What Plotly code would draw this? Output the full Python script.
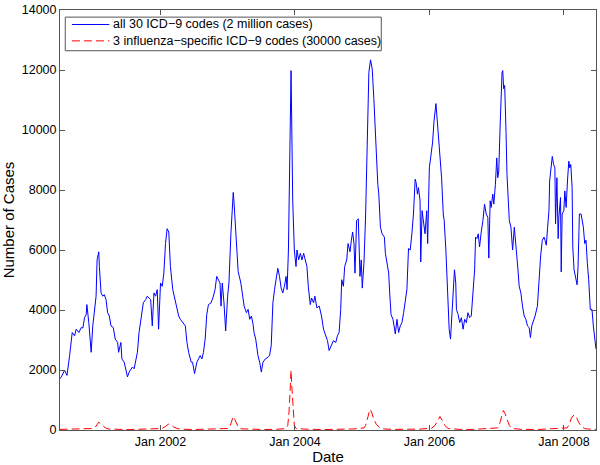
import pandas as pd
import plotly.graph_objects as go

# times as decimal years, values = daily case counts
t_all = [
    2000.500, 2000.525, 2000.574, 2000.609, 2000.648, 2000.687, 2000.722, 2000.746, 2000.786, 2000.820,
    2000.845, 2000.869, 2000.894, 2000.904, 2000.933, 2000.968, 2000.992, 2001.017, 2001.041, 2001.056,
    2001.081, 2001.090, 2001.115, 2001.140, 2001.164, 2001.189, 2001.213, 2001.238, 2001.263, 2001.297,
    2001.326, 2001.361, 2001.376, 2001.410, 2001.425, 2001.459, 2001.508, 2001.533, 2001.582, 2001.607,
    2001.656, 2001.680, 2001.705, 2001.744, 2001.779, 2001.803, 2001.828, 2001.853, 2001.877, 2001.902,
    2001.926, 2001.951, 2001.971, 2002.000, 2002.025, 2002.049, 2002.074, 2002.098, 2002.123, 2002.147,
    2002.182, 2002.211, 2002.236, 2002.270, 2002.295, 2002.344, 2002.369, 2002.393, 2002.418, 2002.457,
    2002.477, 2002.506, 2002.541, 2002.565, 2002.590, 2002.615, 2002.639, 2002.664, 2002.688, 2002.713,
    2002.752, 2002.787, 2002.811, 2002.836, 2002.860, 2002.885, 2002.900, 2002.919, 2002.944, 2002.969,
    2002.998, 2003.018, 2003.047, 2003.082, 2003.096, 2003.131, 2003.155, 2003.195, 2003.214, 2003.244,
    2003.278, 2003.303, 2003.327, 2003.352, 2003.377, 2003.391, 2003.416, 2003.450, 2003.475, 2003.500,
    2003.524, 2003.559, 2003.598, 2003.622, 2003.647, 2003.672, 2003.696, 2003.721, 2003.745, 2003.770,
    2003.795, 2003.819, 2003.844, 2003.868, 2003.883, 2003.903, 2003.942, 2003.967, 2003.991, 2004.016,
    2004.030, 2004.055, 2004.080, 2004.104, 2004.129, 2004.153, 2004.178, 2004.198, 2004.227, 2004.247,
    2004.276, 2004.296, 2004.325, 2004.360, 2004.394, 2004.424, 2004.458, 2004.483, 2004.507, 2004.532,
    2004.571, 2004.606, 2004.630, 2004.655, 2004.679, 2004.694, 2004.719, 2004.738, 2004.768, 2004.788,
    2004.817, 2004.837, 2004.856, 2004.876, 2004.891, 2004.915, 2004.940, 2004.965, 2004.984, 2004.999,
    2005.024, 2005.048, 2005.097, 2005.122, 2005.147, 2005.171, 2005.196, 2005.230, 2005.245, 2005.260,
    2005.269, 2005.294, 2005.328, 2005.343, 2005.368, 2005.392, 2005.407, 2005.427, 2005.456, 2005.476,
    2005.491, 2005.515, 2005.540, 2005.564, 2005.589, 2005.614, 2005.638, 2005.663, 2005.687, 2005.712,
    2005.737, 2005.761, 2005.786, 2005.800, 2005.820, 2005.835, 2005.859, 2005.869, 2005.889, 2005.909,
    2005.933, 2005.958, 2005.972, 2005.997, 2006.017, 2006.046, 2006.066, 2006.095, 2006.105, 2006.130,
    2006.145, 2006.164, 2006.179, 2006.204, 2006.218, 2006.243, 2006.263, 2006.277, 2006.292, 2006.312,
    2006.331, 2006.351, 2006.371, 2006.390, 2006.400, 2006.425, 2006.449, 2006.474, 2006.499, 2006.523,
    2006.548, 2006.572, 2006.597, 2006.621, 2006.646, 2006.671, 2006.685, 2006.705, 2006.725, 2006.744,
    2006.769, 2006.794, 2006.818, 2006.843, 2006.867, 2006.882, 2006.902, 2006.916, 2006.941, 2006.956,
    2006.980, 2007.000, 2007.015, 2007.030, 2007.049, 2007.064, 2007.079, 2007.089, 2007.103, 2007.118,
    2007.128, 2007.138, 2007.152, 2007.167, 2007.177, 2007.187, 2007.211, 2007.236, 2007.261, 2007.285,
    2007.310, 2007.334, 2007.359, 2007.383, 2007.408, 2007.433, 2007.457, 2007.482, 2007.501, 2007.521,
    2007.541, 2007.570, 2007.605, 2007.629, 2007.654, 2007.678, 2007.703, 2007.718, 2007.737, 2007.757,
    2007.777, 2007.787, 2007.811, 2007.826, 2007.846, 2007.865, 2007.875, 2007.885, 2007.895, 2007.914,
    2007.924, 2007.949, 2007.959, 2007.973, 2007.998, 2008.013, 2008.032, 2008.052, 2008.072, 2008.087,
    2008.101, 2008.121, 2008.131, 2008.150, 2008.170, 2008.195, 2008.209, 2008.229, 2008.254, 2008.268,
    2008.288, 2008.308, 2008.327, 2008.347, 2008.367, 2008.391, 2008.416, 2008.436, 2008.455, 2008.475,
]
v_all = [
    1700, 1770, 1990, 1820, 2480, 3250, 3140, 3360, 3250, 3415,
    3400, 3745, 3850, 4180, 3580, 2590, 3470, 4020, 4460, 5670,
    5940, 5450, 4570, 4460, 4510, 4350, 3910, 3800, 3470, 3415,
    3030, 2920, 2590, 2920, 2370, 2260, 1770, 1930, 2100, 2040,
    2590, 3250, 3580, 4240, 4350, 4460, 4400, 4350, 3470, 4570,
    4460, 4680, 3360, 4900, 4790, 5230, 6215, 6710, 6600, 5450,
    4680, 4350, 4130, 3800, 3690, 3525, 3470, 2920, 2590, 2260,
    2260, 1880, 2260, 2370, 2480, 2370, 2590, 3030, 3850, 4180,
    4240, 4460, 4680, 5120, 5010, 4900, 4130, 4900, 4240, 3300,
    4460, 4900, 6540, 7920, 7500, 6000, 5280, 4900, 4570, 4130,
    3910, 4020, 3690, 3800, 3525, 3250, 3030, 2480, 2260, 1930,
    2260, 2370, 2425, 2480, 2810, 4240, 4680, 5010, 5390, 5120,
    4730, 4570, 4790, 5120, 4680, 6000, 11980, 7640, 6000, 5450,
    6000, 5670, 5890, 5670, 5890, 5670, 5450, 4790, 4180, 4400,
    4240, 4460, 4070, 4130, 3800, 3360, 3140, 2975, 2650, 2760,
    2975, 2920, 3140, 3250, 4020, 5010, 4790, 5450, 5670, 6215,
    5940, 6325, 6600, 6215, 5230, 6980, 7040, 5120, 5670, 4730,
    5560, 7100, 11920, 12340, 12030, 11050, 9620, 8190, 7860, 7310,
    6760, 6540, 6430, 5890, 5560, 5230, 4570, 3850, 3690, 3470,
    3200, 3690, 3250, 3470, 3580, 3910, 4240, 4680, 6050, 6000,
    6540, 7200, 8360, 8250, 7860, 8080, 7640, 5600, 7310, 6980,
    6540, 7310, 6215, 8740, 9070, 9600, 10280, 10880, 10600, 9840,
    9620, 8960, 8410, 7200, 6980, 6000, 4900, 3910, 3360, 3030,
    3690, 4350, 5340, 4900, 4020, 3850, 3580, 3745, 3360, 3690,
    3580, 3910, 3745, 3800, 4460, 5340, 6430, 6380, 6540, 6100,
    6600, 6980, 7530, 7200, 7090, 5730, 7640, 7420, 7860, 7530,
    8190, 9070, 8410, 8630, 10060, 11485, 11920, 11980, 11376, 11485,
    10940, 9950, 8520, 7970, 7200, 6980, 6760, 6000, 6760, 6215,
    5500, 4790, 4570, 4130, 3800, 3690, 3470, 3415, 3080, 3470,
    3580, 3800, 4130, 5010, 5830, 6325, 6430, 6325, 6160, 6760,
    7310, 8300, 8850, 9120, 8850, 8740, 6870, 8080, 8410, 6380,
    7090, 7750, 5270, 7200, 7310, 7970, 7420, 8300, 8960, 8740,
    8850, 8080, 6100, 5340, 5120, 4840, 5450, 7200, 7200, 6980,
    6760, 6215, 6325, 5560, 5010, 4020, 4020, 3470, 2975, 2700,
]

t_flu = [
    2000.500, 2000.648, 2000.795, 2000.943, 2000.992, 2001.031, 2001.056, 2001.081, 2001.115, 2001.149,
    2001.189, 2001.238, 2001.385, 2001.533, 2001.680, 2001.828, 2001.951, 2002.025, 2002.074, 2002.103,
    2002.123, 2002.162, 2002.197, 2002.246, 2002.295, 2002.467, 2002.664, 2002.860, 2003.008, 2003.032,
    2003.057, 2003.082, 2003.106, 2003.131, 2003.155, 2003.195, 2003.352, 2003.549, 2003.745, 2003.868,
    2003.893, 2003.912, 2003.932, 2003.942, 2003.952, 2003.971, 2003.991, 2004.016, 2004.188, 2004.434,
    2004.679, 2004.876, 2005.024, 2005.048, 2005.073, 2005.097, 2005.112, 2005.137, 2005.171, 2005.210,
    2005.245, 2005.279, 2005.466, 2005.663, 2005.859, 2006.031, 2006.081, 2006.120, 2006.154, 2006.189,
    2006.228, 2006.277, 2006.449, 2006.646, 2006.843, 2007.015, 2007.049, 2007.079, 2007.098, 2007.123,
    2007.152, 2007.187, 2007.226, 2007.383, 2007.629, 2007.875, 2008.047, 2008.082, 2008.111, 2008.146,
    2008.180, 2008.219, 2008.259, 2008.308, 2008.367, 2008.475,
]
v_flu = [
    20, 30, 25, 40, 50, 100, 180, 260, 190, 120,
    60, 30, 20, 15, 25, 30, 35, 50, 120, 180,
    200, 160, 100, 50, 30, 15, 20, 30, 50, 110,
    250, 450, 350, 200, 100, 40, 20, 15, 25, 50,
    150, 600, 1500, 1990, 1500, 600, 150, 50, 25, 15,
    20, 35, 70, 150, 350, 600, 690, 600, 350, 180,
    90, 40, 20, 20, 30, 60, 150, 300, 450, 320,
    150, 50, 20, 20, 40, 70, 250, 550, 650, 550,
    350, 150, 50, 20, 20, 40, 70, 200, 400, 500,
    450, 250, 120, 50, 30, 20,
]

legend_all = "all 30 ICD\u22129 codes (2 million cases)"
legend_flu = "3 influenza\u2212specific ICD\u22129 codes (30000 cases)"
tick_dates = ["2002-01-01", "2004-01-01", "2006-01-01", "2008-01-01"]
tick_text = ["Jan 2002", "Jan 2004", "Jan 2006", "Jan 2008"]
y_ticks = [0, 2000, 4000, 6000, 8000, 10000, 12000, 14000]


def to_dates(years):
    out = []
    for t in years:
        y = int(t)
        start = pd.Timestamp(year=y, month=1, day=1)
        n = (pd.Timestamp(year=y + 1, month=1, day=1) - start).days
        out.append(start + pd.Timedelta(days=(t - y) * n))
    return out


AXIS = "#555555"
FONT = "Liberation Sans, Arial, Helvetica, sans-serif"
BLUE = "#0000FF"
RED = "#FF0000"
RED_DASH = "8px,4px"

fig = go.Figure()
fig.add_trace(go.Scatter(x=to_dates(t_all), y=v_all, mode="lines", name=legend_all,
                         line=dict(color=BLUE, width=1), showlegend=False))
fig.add_trace(go.Scatter(x=to_dates(t_flu), y=v_flu, mode="lines", name=legend_flu,
                         line=dict(color=RED, width=1, dash=RED_DASH), showlegend=False))

# matlab-style legend box drawn in paper coords
fig.add_shape(type="rect", xref="paper", yref="paper", x0=0.0098, x1=0.5994, y0=0.903, y1=0.983,
              line=dict(color=AXIS, width=1), fillcolor="white", layer="above")
rows = [(0.9655, BLUE, "solid", legend_all), (0.9265, RED, RED_DASH, legend_flu)]
for yy, col, dash, label in rows:
    fig.add_shape(type="line", xref="paper", yref="paper", x0=0.0222, x1=0.092, y0=yy, y1=yy,
                  line=dict(color=col, width=1, dash=dash), layer="above")
    fig.add_annotation(xref="paper", yref="paper", x=0.095, y=yy, text=label, showarrow=False,
                       xanchor="left", yanchor="middle", font=dict(size=12.5, color="black"))

fig.update_layout(
    width=600, height=465,
    margin=dict(l=57, r=3, t=6, b=33),
    paper_bgcolor="white", plot_bgcolor="white",
    font=dict(family=FONT, size=12.5, color="black"),
    xaxis=dict(
        type="date", range=["2000-07-04", "2008-06-23"],
        tickvals=tick_dates, ticktext=tick_text,
        showgrid=False, zeroline=False,
        showline=True, linecolor=AXIS, linewidth=1, mirror="ticks",
        ticks="inside", ticklen=5, tickcolor=AXIS,
        title=dict(text="Date", standoff=2),
    ),
    yaxis=dict(
        range=[0, 14000], tickvals=y_ticks, tickformat="d",
        ticklabeloverflow="allow",
        showgrid=False, zeroline=False,
        showline=True, linecolor=AXIS, linewidth=1, mirror="ticks",
        ticks="inside", ticklen=5, tickcolor=AXIS,
        title=dict(text="Number of Cases", standoff=8),
    ),
)

fig.write_html("out.html", config={"displayModeBar": False},
               post_script="document.body.style.margin='0px';")
